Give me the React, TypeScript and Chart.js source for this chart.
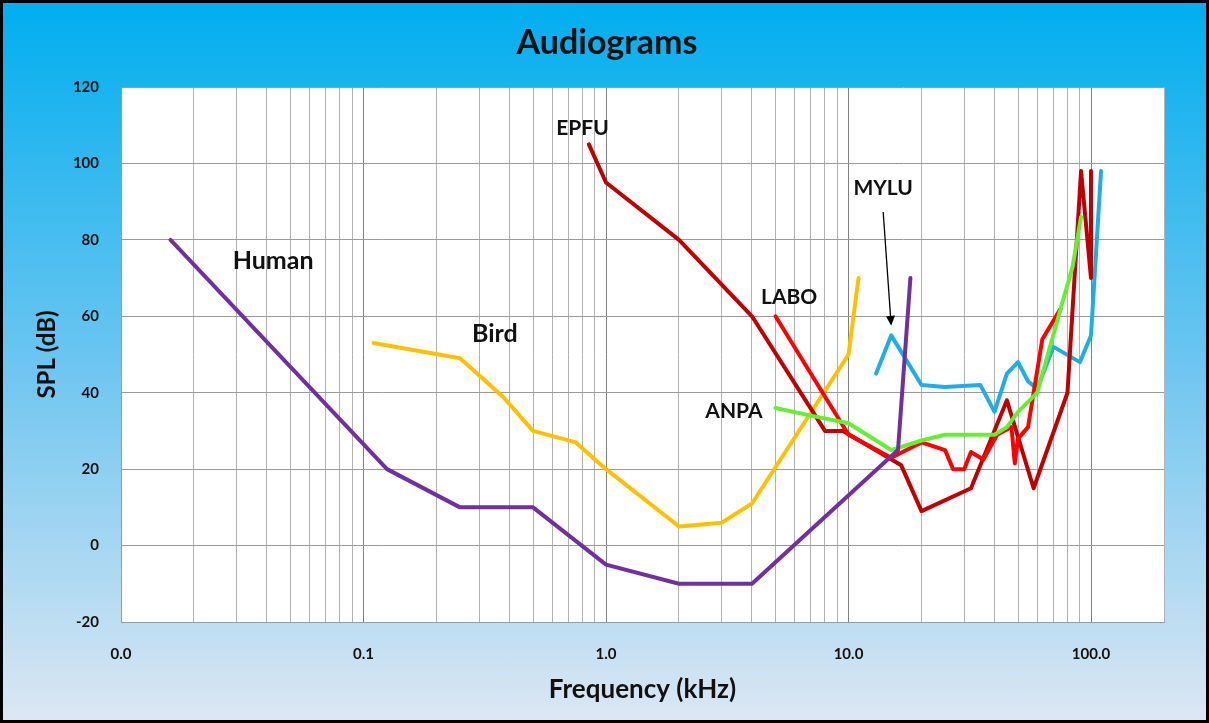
import React, { useEffect, useRef } from "react";
import { Chart, registerables } from "chart.js";

Chart.register(...registerables);

// ---------- data (frequency in kHz, SPL in dB) ----------
const humanFreq = [0.016, 0.125, 0.25, 0.5, 1, 2, 4, 16, 18];
const humanSpl = [80, 20, 10, 10, -5, -10, -10, 25, 70];

const birdFreq = [0.11, 0.25, 0.375, 0.5, 0.75, 1, 2, 3, 4, 10, 11];
const birdSpl = [53, 49, 39, 30, 27, 20, 5, 6, 11, 50, 70];

const epfuFreq = [0.85, 1, 2, 4, 8, 9.5, 16.5, 20, 32, 45, 58, 80, 91, 100, 100];
const epfuSpl = [105, 95, 80, 60, 30, 30, 21, 9, 15, 38, 15, 40, 98, 70, 98];

const laboFreq = [5, 10, 15, 20, 25, 27, 30, 32, 36, 41, 47, 48.5, 50, 55, 63, 75];
const laboSpl = [60, 29, 23, 27, 25, 20, 20, 24.5, 22.5, 29, 31, 21.5, 28, 31, 54, 62];

const anpaFreq = [5, 7, 10, 15, 20, 25, 40, 45, 50, 60, 75, 84, 91];
const anpaSpl = [36, 34, 32, 25, 27.5, 29, 29, 31, 35, 40, 62, 73, 86];

const myluFreq = [13, 15, 20, 25, 35, 40, 45, 50, 55, 60, 70, 90, 100, 110];
const myluSpl = [45, 55, 42, 41.5, 42, 35, 45, 48, 43, 41, 52, 48, 55, 98];

// ---------- axes ----------
const X_DECADES = [0.01, 0.1, 1, 10, 100];
const X_DECADE_LABELS = ["0.0", "0.1", "1.0", "10.0", "100.0"];
const X_MIN = 0.01;
const X_MAX = 200;
const Y_MIN = -20;
const Y_MAX = 120;
const Y_STEP = 20;

const TITLE = "Audiograms";

// ---------- annotations (data coordinates) ----------
const NOTE_TEXT = ["Human", "Bird", "EPFU", "MYLU", "LABO", "ANPA"];
const NOTE_X = [0.0424, 0.348, 0.8, 13.9, 5.69, 3.37];
const NOTE_Y = [74.5, 55.4, 109.3, 93.6, 65, 35.2];
const NOTE_SIZE = [25, 25, 21, 21, 21, 21];
const ARROW_FROM = [13.9, 87.3];
const ARROW_TO = [15.0, 57.5];

const FONT = "Lato, 'Open Sans', sans-serif";

const toPts = (xs: number[], ys: number[]) => xs.map((x, i) => ({ x, y: ys[i] }));
const isDecade = (v: number) => X_DECADES.some((d) => Math.abs(d - v) < d * 1e-6);

const plotBg = {
  id: "plotBg",
  beforeDraw(chart: any) {
    const { ctx, chartArea: a } = chart;
    ctx.save();
    ctx.fillStyle = "#ffffff";
    ctx.fillRect(a.left, a.top, a.right - a.left, a.bottom - a.top);
    ctx.fillStyle = "#111111";
    ctx.textAlign = "center";
    ctx.textBaseline = "middle";
    ctx.font = `bold 34px ${FONT}`;
    ctx.fillText(TITLE, 607, 43);
    ctx.restore();
  },
};

const notes = {
  id: "notes",
  afterDatasetsDraw(chart: any) {
    const { ctx } = chart;
    const xs = chart.scales.x;
    const ys = chart.scales.y;
    ctx.save();
    ctx.fillStyle = "#111111";
    ctx.textAlign = "center";
    ctx.textBaseline = "middle";
    NOTE_TEXT.forEach((t, i) => {
      ctx.font = `bold ${NOTE_SIZE[i]}px ${FONT}`;
      ctx.fillText(t, xs.getPixelForValue(NOTE_X[i]), ys.getPixelForValue(NOTE_Y[i]));
    });
    const x1 = xs.getPixelForValue(ARROW_FROM[0]);
    const y1 = ys.getPixelForValue(ARROW_FROM[1]);
    const x2 = xs.getPixelForValue(ARROW_TO[0]);
    const y2 = ys.getPixelForValue(ARROW_TO[1]);
    const ang = Math.atan2(y2 - y1, x2 - x1);
    const head = 10;
    const hw = 4.5;
    const bx = x2 - head * Math.cos(ang);
    const by = y2 - head * Math.sin(ang);
    ctx.strokeStyle = "#000";
    ctx.lineWidth = 1.3;
    ctx.beginPath();
    ctx.moveTo(x1, y1);
    ctx.lineTo(bx, by);
    ctx.stroke();
    ctx.fillStyle = "#000";
    ctx.beginPath();
    ctx.moveTo(x2, y2);
    ctx.lineTo(bx + hw * Math.sin(ang), by - hw * Math.cos(ang));
    ctx.lineTo(bx - hw * Math.sin(ang), by + hw * Math.cos(ang));
    ctx.closePath();
    ctx.fill();
    ctx.restore();
  },
};

export default function App() {
  const ref = useRef<HTMLCanvasElement>(null);

  useEffect(() => {
    const line = (label: string, xs: number[], ys: number[], color: string) => ({
      label,
      data: toPts(xs, ys),
      borderColor: color,
      backgroundColor: color,
      borderWidth: 4,
      pointRadius: 0,
      tension: 0,
      borderJoinStyle: "round" as const,
      borderCapStyle: "round" as const,
      fill: false,
    });

    const chart = new Chart(ref.current as HTMLCanvasElement, {
      type: "line",
      data: {
        datasets: [
          line("Human", humanFreq, humanSpl, "#7030a0"),
          line("ANPA", anpaFreq, anpaSpl, "#66ee33"),
          line("LABO", laboFreq, laboSpl, "#ff0000"),
          line("EPFU", epfuFreq, epfuSpl, "#c00000"),
          line("Bird", birdFreq, birdSpl, "#ffc000"),
          line("MYLU", myluFreq, myluSpl, "#1eaee6"),
        ],
      },
      options: {
        responsive: false,
        animation: false,
        devicePixelRatio: 1,
        layout: { padding: { left: 0, right: 45, top: 87, bottom: 0 } },
        plugins: {
          legend: { display: false },
          tooltip: { enabled: false },
          title: { display: false },
        },
        scales: {
          x: {
            type: "logarithmic",
            min: X_MIN,
            max: X_MAX,
            afterBuildTicks: (scale: any) => {
              const vals: number[] = [];
              X_DECADES.forEach((d) => {
                for (let m = 1; m <= 9; m++) {
                  const v = +(d * m).toPrecision(8);
                  if (v <= X_MAX) vals.push(v);
                }
              });
              scale.ticks = vals.map((value) => ({ value }));
            },
            afterFit: (scale: any) => {
              scale.height = 101;
            },
            ticks: {
              autoSkip: false,
              maxRotation: 0,
              padding: 23,
              color: "#111111",
              font: { family: FONT, size: 15, weight: "bold" },
              callback: (value: any) => {
                const i = X_DECADES.findIndex((d) => Math.abs(d - Number(value)) < d * 1e-6);
                return i >= 0 ? X_DECADE_LABELS[i] : "";
              },
            },
            grid: {
              drawTicks: false,
              lineWidth: 1,
              color: (c: any) => (c.tick && isDecade(c.tick.value) ? "#7f7f7f" : "#b2b2b2"),
            },
            border: { color: "#9a9a9a" },
            title: {
              display: true,
              text: "Frequency (kHz)",
              color: "#111111",
              font: { family: FONT, size: 26, weight: "bold" },
              padding: { top: 0, bottom: 18 },
            },
          },
          y: {
            min: Y_MIN,
            max: Y_MAX,
            afterFit: (scale: any) => {
              scale.width = 121;
            },
            ticks: {
              stepSize: Y_STEP,
              padding: 22,
              color: "#111111",
              font: { family: FONT, size: 15, weight: "bold" },
            },
            grid: { drawTicks: false, color: "#9a9a9a", lineWidth: 1 },
            border: { color: "#9a9a9a" },
            title: {
              display: true,
              text: "SPL (dB)",
              color: "#111111",
              font: { family: FONT, size: 24, weight: "bold" },
              padding: { top: 33, bottom: 0 },
            },
          },
        },
      },
      plugins: [plotBg, notes],
    } as any);

    return () => chart.destroy();
  }, []);

  return (
    <div
      style={{
        position: "absolute",
        left: 0,
        top: 0,
        width: 1209,
        height: 723,
        background: "linear-gradient(to bottom, #00aeef 0%, #6cc5f0 50%, #dde7f3 100%)",
      }}
    >
      <canvas ref={ref} width={1209} height={723} style={{ display: "block", width: 1209, height: 723 }} />
      <div
        style={{
          position: "absolute",
          left: 0,
          top: 0,
          width: 1209,
          height: 723,
          border: "3px solid #000",
          boxSizing: "border-box",
          pointerEvents: "none",
        }}
      />
    </div>
  );
}
